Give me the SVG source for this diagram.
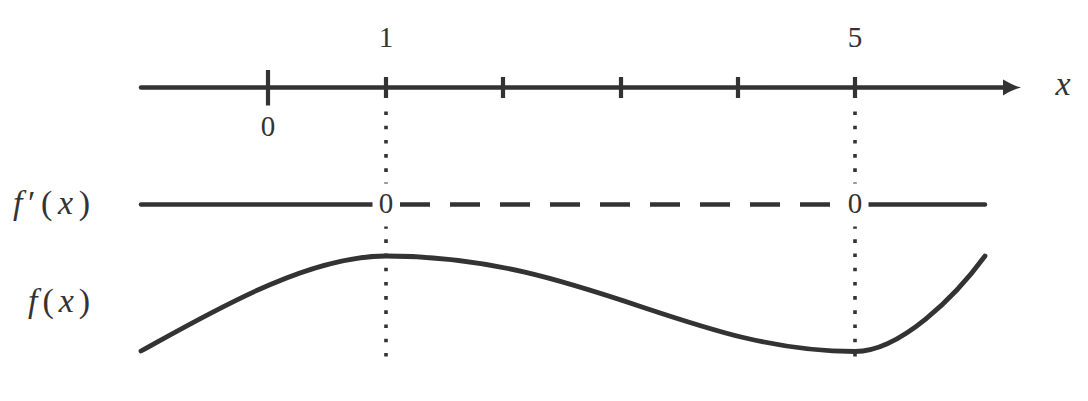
<svg xmlns="http://www.w3.org/2000/svg" width="1088" height="401" viewBox="0 0 1088 401">
  <style>
    .ln { stroke: #333; stroke-width: 4.5; fill: none; }
    .rnd { stroke-linecap: round; }
    .tick { stroke: #333; stroke-width: 4.2; }
    .dot { stroke: #333; stroke-width: 3.6; stroke-dasharray: 3.6 10.6; fill: none; }
    .dash { stroke: #333; stroke-width: 4.5; stroke-dasharray: 30 20; fill: none; }
    .num { font-size: 29px; fill: #333; text-anchor: middle; }
    .math { font-size: 34px; fill: #333; }
    .it { font-style: italic; }
    .mask { fill: #fff; }
  </style>
  <rect width="1088" height="401" fill="#fff"/>

  <g id="connectors">
    <line class="dot" x1="386" y1="111.5" x2="386" y2="357"/>
    <line class="dot" x1="855" y1="111.5" x2="855" y2="357"/>
  </g>

  <g id="x-axis" font-family="'Liberation Serif', 'Times New Roman', 'DejaVu Serif', serif">
    <line class="ln rnd" x1="141" y1="87.5" x2="1006" y2="87.5"/>
    <path d="M1003,79.5 C1009,83 1015,86 1021,87.5 C1015,89 1009,92 1003,95.5 Z" fill="#333"/>
    <line class="tick" x1="268" y1="70" x2="268" y2="105.5"/>
    <line class="tick" x1="386" y1="77" x2="386" y2="98"/>
    <line class="tick" x1="503" y1="77" x2="503" y2="98"/>
    <line class="tick" x1="621" y1="77" x2="621" y2="98"/>
    <line class="tick" x1="738" y1="77" x2="738" y2="98"/>
    <line class="tick" x1="855" y1="77" x2="855" y2="98"/>
    <text class="num" x="268" y="136">0</text>
    <text class="num" x="386" y="46.5">1</text>
    <text class="num" x="855" y="46.5">5</text>
    <text class="math it" x="1063" y="95" text-anchor="middle">x</text>
  </g>

  <g id="fprime-row" font-family="'Liberation Serif', 'Times New Roman', 'DejaVu Serif', serif">
    <text class="math" x="13" y="214" textLength="77" lengthAdjust="spacing"><tspan class="it">f</tspan>′(<tspan class="it">x</tspan>)</text>
    <line class="ln rnd" x1="141" y1="204.5" x2="373" y2="204.5"/>
    <line class="dash" x1="400" y1="204.5" x2="841.5" y2="204.5"/>
    <line class="ln rnd" x1="868.5" y1="204.5" x2="985" y2="204.5"/>
    <rect class="mask" x="372.5" y="183.5" width="27" height="43"/>
    <rect class="mask" x="841.5" y="183.5" width="27" height="43"/>
    <text class="num" x="386" y="212.5">0</text>
    <text class="num" x="855" y="212.5">0</text>
  </g>

  <g id="f-row" font-family="'Liberation Serif', 'Times New Roman', 'DejaVu Serif', serif">
    <text class="math" x="28" y="312" textLength="62" lengthAdjust="spacing"><tspan class="it">f</tspan>(<tspan class="it">x</tspan>)</text>
    <path class="ln rnd" style="stroke-width:4.8" d="M141,351 C211,312.5 306,256 386,256 C584,256 689,351.5 855,351.5 C900,351.5 955,297 985,256"/>
  </g>
</svg>
